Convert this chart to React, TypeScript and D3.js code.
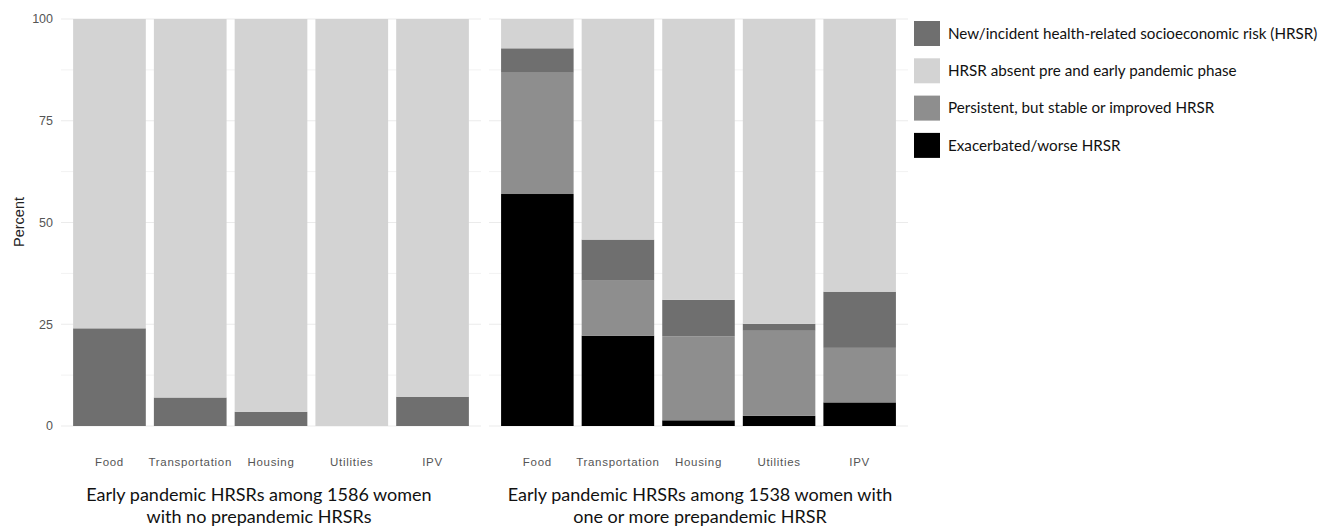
import React from "react";
import * as d3 from "d3";

// DATA
const categories = ["Food", "Transportation", "Housing", "Utilities", "IPV"];
const seriesNames = [
  "Exacerbated/worse HRSR",
  "Persistent, but stable or improved HRSR",
  "New/incident health-related socioeconomic risk (HRSR)",
  "HRSR absent pre and early pandemic phase",
];
const legendOrder = [2, 3, 1, 0];

// left panel: women with no prepandemic HRSRs
const leftExacerbated = [0, 0, 0, 0, 0];
const leftPersistent = [0, 0, 0, 0, 0];
const leftNew = [24, 7, 3.5, 0, 7.2];
const leftAbsent = [76, 93, 96.5, 100, 92.8];

// right panel: women with one or more prepandemic HRSR
const rightExacerbated = [57, 22.2, 1.4, 2.5, 5.8];
const rightPersistent = [29.8, 13.5, 20.6, 20.9, 13.4];
const rightNew = [6, 10.1, 9, 1.7, 13.8];
const rightAbsent = [7.2, 54.2, 69, 74.9, 67];

const yTicks = [0, 25, 50, 75, 100];
const yMinor = [12.5, 37.5, 62.5, 87.5];

const panelTitles = [
  ["Early pandemic HRSRs among 1586 women", "with no prepandemic HRSRs"],
  ["Early pandemic HRSRs among 1538 women with", "one or more prepandemic HRSR"],
];

const colors = ["#000000", "#8e8e8e", "#6f6f6f", "#d3d3d3"];

const buildRows = (ex: number[], pe: number[], nw: number[], ab: number[]) =>
  categories.map((c, i) => ({
    cat: c,
    s0: ex[i],
    s1: pe[i],
    s2: nw[i],
    s3: ab[i],
  }));

const panels = [
  buildRows(leftExacerbated, leftPersistent, leftNew, leftAbsent),
  buildRows(rightExacerbated, rightPersistent, rightNew, rightAbsent),
];

export default function App() {
  const W = 1319;
  const H = 529;
  const top = 19;
  const bottom = 426;
  const panelX = [
    [61, 481],
    [489, 908],
  ];
  // captions sit a bit left of the left panel centre (they include the axis area)
  const titleCenters = [259, 700];

  const y = d3.scaleLinear().domain([0, 100]).range([bottom, top]);
  const stack = d3.stack<any>().keys(["s0", "s1", "s2", "s3"]);

  const tickFont = "Liberation Sans, Arial, sans-serif";
  const titleFont = "Lato, sans-serif";

  return (
    <div style={{ position: "absolute", left: 0, top: 0 }}>
      <svg width={W} height={H} style={{ display: "block", background: "#fff" }}>
        {/* Y AXIS LABELS */}
        {yTicks.map((t) => (
          <text
            key={t}
            x={53}
            y={y(t)}
            dy="0.35em"
            textAnchor="end"
            fontFamily={tickFont}
            fontSize={12.5}
            fill="#555"
          >
            {t}
          </text>
        ))}
        <text
          transform={`translate(24,222) rotate(-90)`}
          textAnchor="middle"
          fontFamily={tickFont}
          fontSize={14.5}
          fill="#222"
        >
          Percent
        </text>

        {panels.map((rows, pi) => {
          const [x0, x1] = panelX[pi];
          const x = d3
            .scaleBand()
            .domain(categories)
            .range([x0, x1])
            .paddingInner(0.1)
            .paddingOuter(0.15);
          const layers = stack(rows);
          return (
            <g key={pi}>
              {/* GRID */}
              {yMinor.map((t) => (
                <line key={"m" + t} x1={x0} x2={x1} y1={y(t)} y2={y(t)} stroke="#f2f2f2" strokeWidth={1} />
              ))}
              {yTicks.map((t) => (
                <line key={"g" + t} x1={x0} x2={x1} y1={y(t)} y2={y(t)} stroke="#ebebeb" strokeWidth={1.2} />
              ))}
              {/* BARS */}
              {layers.map((layer, li) => (
                <g key={li} fill={colors[li]}>
                  {layer.map((d) =>
                    d[1] - d[0] > 0 ? (
                      <rect
                        key={d.data.cat}
                        x={x(d.data.cat)}
                        width={x.bandwidth()}
                        y={y(d[1])}
                        height={y(d[0]) - y(d[1])}
                      />
                    ) : null
                  )}
                </g>
              ))}
              {/* X LABELS */}
              {categories.map((c) => (
                <text
                  key={c}
                  x={(x(c) as number) + x.bandwidth() / 2}
                  y={462}
                  dy="0.35em"
                  textAnchor="middle"
                  fontFamily={tickFont}
                  fontSize={11.5}
                  letterSpacing={0.7}
                  fill="#555"
                >
                  {c}
                </text>
              ))}
              {/* PANEL TITLE */}
              {panelTitles[pi].map((line, k) => (
                <text
                  key={k}
                  x={titleCenters[pi]}
                  y={495 + k * 22}
                  dy="0.35em"
                  textAnchor="middle"
                  fontFamily={titleFont}
                  fontSize={18}
                  fill="#111"
                >
                  {line}
                </text>
              ))}
            </g>
          );
        })}

        {/* LEGEND */}
        {legendOrder.map((si, k) => (
          <g key={si} transform={`translate(914,${21 + k * 37.3})`}>
            <rect width={26} height={25} fill={colors[si]} />
            <text x={34} y={12.5} dy="0.35em" fontFamily={titleFont} fontSize={15.2} fill="#111">
              {seriesNames[si]}
            </text>
          </g>
        ))}
      </svg>
    </div>
  );
}
